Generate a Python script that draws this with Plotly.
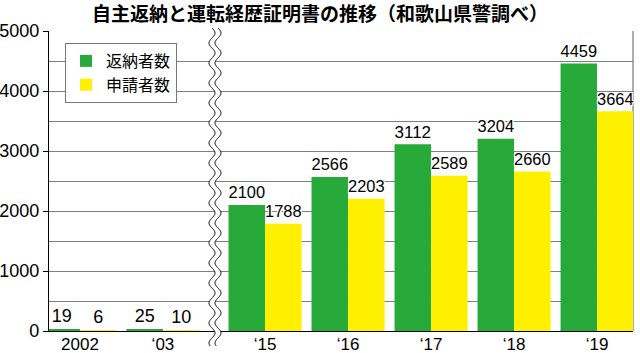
import math
import plotly.graph_objects as go

# ---- data ----
categories = ["2002", "‘03", "‘15", "‘16", "‘17", "‘18", "‘19"]
returned = [19, 25, 2100, 2566, 3112, 3204, 4459]    # 返納者数
applied = [6, 10, 1788, 2203, 2589, 2660, 3664]      # 申請者数
series_names = ["返納者数", "申請者数"]
title_text = "自主返納と運転経歴証明書の推移（和歌山県警調べ）"

# ---- layout helpers ----
W, H = 640, 353
L, R, T, B = 49, 633, 31, 331
BREAK_GAP = 0.23
pos = [i + (BREAK_GAP if i >= 2 else 0) for i in range(len(categories))]

GREEN = "#28AA3A"
YELLOW = "#FFF000"
halo = "1px 1px 0 #fff, -1px -1px 0 #fff, 1px -1px 0 #fff, -1px 1px 0 #fff"
numfont = dict(family="Liberation Sans, Arial, sans-serif", size=18, color="black", shadow=halo)

fig = go.Figure()
fig.add_trace(go.Bar(x=pos, y=returned, name=series_names[0], marker=dict(color=GREEN, line=dict(width=0)),
                     text=[str(v) for v in returned], textposition="outside", textfont=numfont,
                     cliponaxis=False))
fig.add_trace(go.Bar(x=pos, y=applied, name=series_names[1], marker=dict(color=YELLOW, line=dict(width=0)),
                     text=[str(v) for v in applied], textposition="outside", textfont=numfont,
                     cliponaxis=False))

def px2paper(px, py):
    return (px - L) / (R - L), (B - py) / (B - T)

# wavy break marker
cx = 215
amp, lam, half = 3.0, 20.0, 3.0
ys = [28 + k * 0.5 for k in range(int((346 - 28) / 0.5) + 1)]
left_pts = [px2paper(cx - half + amp * math.sin(2 * math.pi * (y - 28) / lam), y) for y in ys]
right_pts = [px2paper(cx + half + amp * math.sin(2 * math.pi * (y - 28) / lam), y) for y in ys]

def path_of(pts):
    return "M " + " L ".join(f"{x:.5f},{y:.5f}" for x, y in pts)

fill_path = path_of(left_pts + right_pts[::-1]) + " Z"
shapes = [
    dict(type="path", xref="paper", yref="paper", path=fill_path, fillcolor="white", line=dict(width=0), layer="above"),
    dict(type="path", xref="paper", yref="paper", path=path_of(left_pts), line=dict(color="black", width=1), layer="above"),
    dict(type="path", xref="paper", yref="paper", path=path_of(right_pts), line=dict(color="black", width=1), layer="above"),
    dict(type="line", xref="paper", yref="paper", x0=1, x1=1, y0=0, y1=1, line=dict(color="#777", width=1.2), layer="below"),
]

fig.update_layout(
    width=W, height=H,
    margin=dict(l=L, r=W - R, t=T, b=H - B, autoexpand=False),
    paper_bgcolor="white", plot_bgcolor="white",
    barmode="group", bargap=0.12, bargroupgap=0,
    font=dict(family="Liberation Sans, Arial, sans-serif", size=18, color="black"),
    title=dict(text="<b>" + title_text + "</b>", x=0.5, xanchor="center", y=1 - 14 / H, yanchor="middle",
               font=dict(family="Noto Sans CJK JP", size=19, color="black"), automargin=False),
    showlegend=True,
    legend=dict(x=(65 - L) / (R - L), y=(B - 43) / (B - T), xanchor="left", yanchor="top",
                bordercolor="#777", borderwidth=1, bgcolor="white",
                font=dict(family="Noto Sans CJK JP", size=16, color="black"),
                tracegroupgap=0, itemwidth=30),
    shapes=shapes,
)
fig.update_xaxes(range=[-0.373, 6.663], tickmode="array", tickvals=pos, ticktext=categories,
                 showgrid=False, zeroline=False, showline=True, linecolor="black", linewidth=1.2,
                 ticks="", tickfont=dict(size=17), ticklabelstandoff=-3, fixedrange=True, automargin=False)
fig.update_yaxes(range=[0, 5000], dtick=1000, tick0=0, showgrid=True, gridcolor="#808080", gridwidth=1.2,
                 minor=dict(dtick=500, showgrid=True, gridcolor="#808080", gridwidth=1.2),
                 zeroline=False, showline=True, linecolor="black", linewidth=1.2,
                 ticks="outside", ticklen=5, tickcolor="black", tickfont=dict(size=18), fixedrange=True,
                 automargin=False)

fig.write_html("out.html")
